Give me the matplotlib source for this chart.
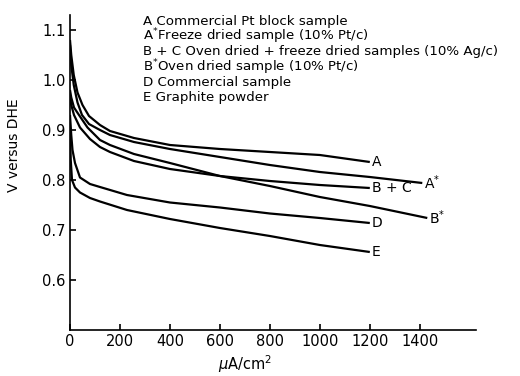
import matplotlib.pyplot as plt

# current density (uA/cm2) and potential (V vs DHE)
i_A = [0, 5, 15, 30, 50, 76, 120, 160, 256, 400, 600, 800, 1000, 1200]
v_A = [1.08, 1.05, 1.01, 0.975, 0.95, 0.928, 0.91, 0.898, 0.884, 0.870, 0.862, 0.856, 0.850, 0.836]

i_As = [0, 5, 15, 30, 48, 76, 120, 160, 256, 400, 600, 800, 1000, 1200, 1410]
v_As = [1.07, 1.03, 0.99, 0.955, 0.93, 0.912, 0.90, 0.89, 0.876, 0.862, 0.846, 0.830, 0.816, 0.806, 0.794]

i_BC = [0, 5, 16, 40, 80, 120, 160, 256, 400, 600, 800, 1000, 1200]
v_BC = [0.97, 0.95, 0.93, 0.905, 0.882, 0.866, 0.856, 0.838, 0.822, 0.808, 0.798, 0.790, 0.784]

i_Bs = [0, 5, 16, 36, 70, 120, 160, 256, 400, 600, 800, 1000, 1200, 1430]
v_Bs = [0.98, 0.965, 0.945, 0.93, 0.905, 0.88, 0.87, 0.852, 0.834, 0.808, 0.788, 0.766, 0.748, 0.724]

i_D = [0, 5, 10, 20, 40, 80, 120, 228, 400, 600, 800, 1000, 1200]
v_D = [0.93, 0.89, 0.86, 0.834, 0.805, 0.792, 0.786, 0.770, 0.755, 0.745, 0.733, 0.724, 0.714]

i_E = [0, 3, 8, 20, 40, 80, 120, 228, 400, 600, 800, 1000, 1200]
v_E = [0.90, 0.84, 0.80, 0.785, 0.775, 0.764, 0.757, 0.740, 0.722, 0.704, 0.688, 0.670, 0.656]

curves = [(i_A, v_A, "A"), (i_As, v_As, "A$^{*}$"), (i_BC, v_BC, "B + C"),
          (i_Bs, v_Bs, "B$^{*}$"), (i_D, v_D, "D"), (i_E, v_E, "E")]

legend_lines = ["A Commercial Pt block sample",
                "A$^{*}$Freeze dried sample (10% Pt/c)",
                "B + C Oven dried + freeze dried samples (10% Ag/c)",
                "B$^{*}$Oven dried sample (10% Pt/c)",
                "D Commercial sample",
                "E Graphite powder"]

xticks = [0, 200, 400, 600, 800, 1000, 1200, 1400]
yticks = [0.6, 0.7, 0.8, 0.9, 1.0, 1.1]

plt.rcParams['font.family'] = ['DejaVu Sans']
fig = plt.figure(figsize=(5.2, 3.76), dpi=100)
ax = fig.add_axes([70 / 520, 46 / 376, 406 / 520, 315 / 376])

for x, y, lab in curves:
    ax.plot(x, y, color='black', lw=1.6, solid_capstyle='butt')
    ax.text(x[-1] + 8, y[-1], lab, fontsize=10, va='center', ha='left')

ax.set_xlim(0, 1625)
ax.set_ylim(0.5, 1.13)
ax.set_xticks(xticks)
ax.set_yticks(yticks)
ax.set_xticklabels([str(t) for t in xticks], fontsize=10.5)
ax.set_yticklabels([f"{t:.1f}" for t in yticks], fontsize=10.5)
ax.tick_params(direction='in', length=4, width=1.2, pad=3)
for s in ['top', 'right']:
    ax.spines[s].set_visible(False)
for s in ['left', 'bottom']:
    ax.spines[s].set_linewidth(1.2)

fig.text(14 / 520, 1 - 145 / 376, "V versus DHE", rotation=90, ha='center', va='center', fontsize=10)
fig.text(245 / 520, 1 - 364 / 376, r"$\mu$A/cm$^2$", ha='center', va='center', fontsize=10.5)

for k, line in enumerate(legend_lines):
    fig.text(143 / 520, 1 - (21 + 15.4 * k) / 376, line, ha='left', va='center', fontsize=9.6)

fig.savefig("out.png", dpi=100)
